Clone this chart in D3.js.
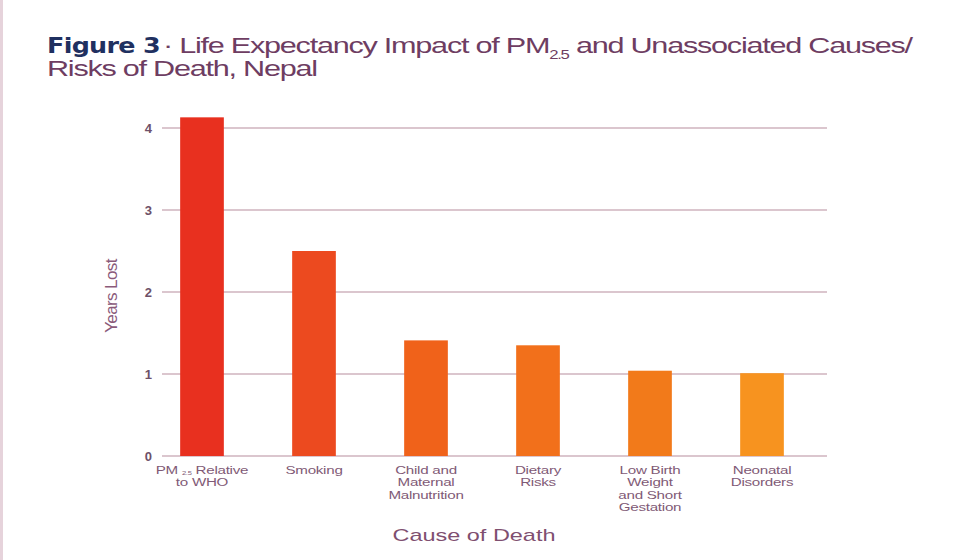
<!DOCTYPE html>
<html><head><meta charset="utf-8">
<script src="https://cdn.jsdelivr.net/npm/d3@7"></script>
<style>
body{margin:0;background:#fff;}
svg{display:block;}
text{font-family:"Liberation Sans",Arial,sans-serif;}
</style></head>
<body>
<svg id="c" width="960" height="560"></svg>
<script>
const categories = ["PM2.5 Relative to WHO","Smoking","Child and Maternal Malnutrition","Dietary Risks","Low Birth Weight and Short Gestation","Neonatal Disorders"];
const labelLines = [["PM|2.5|Relative","to WHO"],["Smoking"],["Child and","Maternal","Malnutrition"],["Dietary","Risks"],["Low Birth","Weight","and Short","Gestation"],["Neonatal","Disorders"]];
const yearsLost = [4.13, 2.5, 1.41, 1.35, 1.04, 1.01];
const barColors = ["#e8301f","#ec4a1f","#f0621a","#f2701b","#f27a1a","#f7931f"];
const yTicks = [0,1,2,3,4];

const svg = d3.select("#c");
const textColor = "#6e3d62";
const SX = 1.38;

function stretch(sel, cx, s){
  sel.attr("transform", `translate(${cx},0) scale(${s},1) translate(${-cx},0)`);
}

// left border line
svg.append("rect").attr("x",0).attr("y",0).attr("width",3).attr("height",560).attr("fill","#e6d3db");

const x = d3.scaleBand().domain(categories).range([146,818]).paddingInner(0.61).paddingOuter(0.305);
const y = d3.scaleLinear().domain([0,4]).range([456,128]);

// gridlines
svg.append("g").selectAll("line").data(yTicks).join("line")
  .attr("x1",162).attr("x2",827)
  .attr("y1",d=>y(d)).attr("y2",d=>y(d))
  .attr("stroke","#cfb3be").attr("stroke-width",1.6);

// y axis labels
const yAxis = d3.axisLeft(y).tickValues(yTicks).tickFormat(d3.format("d")).tickSize(0).tickPadding(0);
const ya = svg.append("g").attr("transform","translate(152,0)").call(yAxis);
ya.select(".domain").remove();
ya.selectAll("text").attr("fill","#6e5068").attr("font-size",13).attr("font-weight","bold").attr("dy","0.35em");

// bars
svg.append("g").selectAll("rect").data(categories).join("rect")
  .attr("x",d=>x(d)).attr("width",x.bandwidth())
  .attr("y",(d,i)=>y(yearsLost[i])).attr("height",(d,i)=>y(0)-y(yearsLost[i]))
  .attr("fill",(d,i)=>barColors[i]);

// x labels
const xl = svg.append("g");
categories.forEach((c,i)=>{
  const cx = x(c)+x.bandwidth()/2;
  const t = xl.append("text").attr("x",cx).attr("y",474)
    .attr("text-anchor","middle").attr("fill","#7f5a76").attr("font-size",11).attr("letter-spacing","-0.2");
  labelLines[i].forEach((l,j)=>{
    if(l.includes("|")){
      const p = l.split("|");
      t.append("tspan").attr("x",cx).attr("dy",0).text(p[0]+" ");
      t.append("tspan").attr("font-size",5.5).attr("dy",1.5).text(p[1]);
      t.append("tspan").attr("dy",-1.5).text(" "+p[2]);
    } else {
      t.append("tspan").attr("x",cx).attr("dy",j===0?0:12.5).text(l);
    }
  });
  stretch(t, cx, SX);
});

// axis titles
svg.append("text").attr("transform","translate(117,296) rotate(-90)")
  .attr("text-anchor","middle").attr("fill","#8a5a7a").attr("font-size",17).attr("letter-spacing","-0.6").text("Years Lost");
const ct = svg.append("text").attr("x",474).attr("y",541).attr("text-anchor","middle")
  .attr("fill","#7f4f70").attr("font-size",17).text("Cause of Death");
stretch(ct, 474, SX);

// title
const tb = svg.append("text").attr("x",47).attr("y",53).attr("font-size",22)
  .style("font-family","'DejaVu Sans'").attr("font-weight","bold").attr("letter-spacing","-0.6")
  .attr("fill","#1f3060").text("Figure 3");
stretch(tb, 47, (160-47)/tb.node().getBBox().width);
const t1 = svg.append("text").attr("x",163).attr("y",53).attr("font-size",22).attr("letter-spacing","-0.9").attr("fill",textColor);
t1.append("tspan").text("· Life Expectancy Impact of PM");
t1.append("tspan").attr("font-size",12).attr("dy",6).text("2.5");
t1.append("tspan").attr("dy",-6).text(" and Unassociated Causes/");
const s1 = (915-163)/t1.node().getBBox().width;
stretch(t1, 163, s1);
const t2 = svg.append("text").attr("x",47).attr("y",76).attr("font-size",22).attr("letter-spacing","-0.9")
  .attr("fill",textColor).text("Risks of Death, Nepal");
stretch(t2, 47, s1);
</script>
</body></html>
